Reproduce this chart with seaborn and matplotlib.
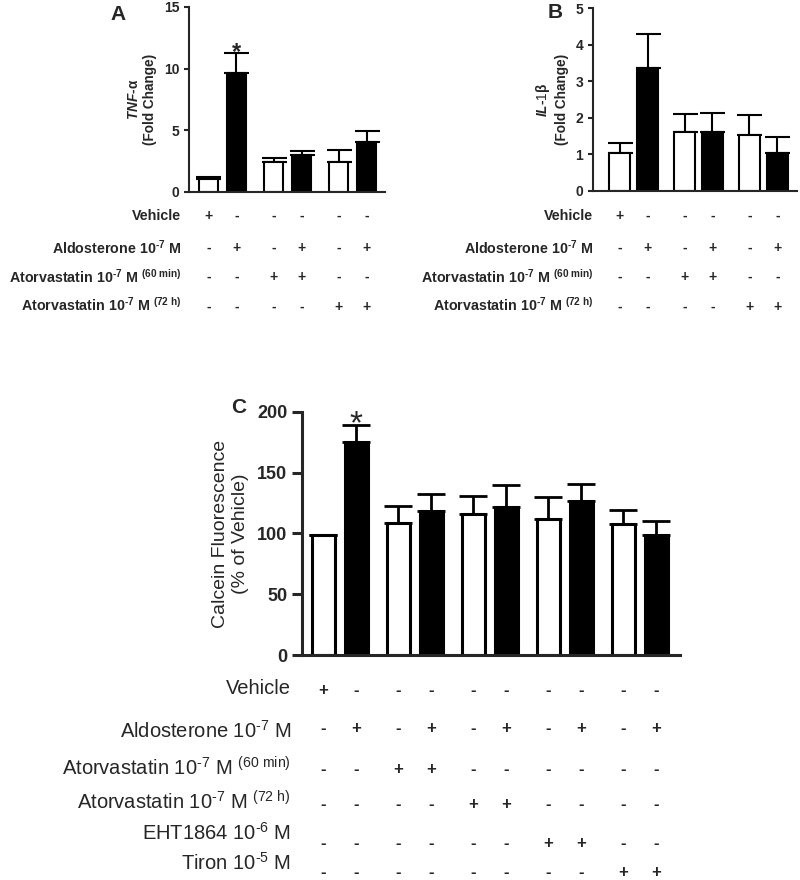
import numpy as np
import pandas as pd
import seaborn as sns
import matplotlib
matplotlib.use('Agg')
from matplotlib import pyplot as plt
from matplotlib.transforms import blended_transform_factory

# panel A: TNF-alpha (fold change), mean and SEM
tnf_mean = [1.0, 9.6, 2.45, 2.95, 2.4, 4.05]
tnf_sem = [0.17, 1.7, 0.3, 0.35, 0.95, 0.9]

# panel B: IL-1beta (fold change)
il1b_mean = [1.05, 3.35, 1.61, 1.62, 1.52, 1.03]
il1b_sem = [0.25, 0.94, 0.49, 0.5, 0.55, 0.44]

# panel C: calcein fluorescence (% of vehicle)
calcein_mean = [99, 175, 109, 118.5, 116, 122, 112, 126.5, 107.5, 99]
calcein_sem = [0, 14.5, 13.5, 14, 15, 18, 18, 14.5, 12, 11]

# treatment tables under the panels
ab_rows = [
    'Vehicle',
    r'Aldosterone 10$^{\mathbf{‐7}}$ M',
    r'Atorvastatin 10$^{\mathbf{‐7}}$ M $^{\mathbf{(60\ min)}}$',
    r'Atorvastatin 10$^{\mathbf{‐7}}$ M $^{\mathbf{(72\ h)}}$',
]
ab_signs = [
    ['+', '-', '-', '-', '-', '-'],
    ['-', '+', '-', '+', '-', '+'],
    ['-', '-', '+', '+', '-', '-'],
    ['-', '-', '-', '-', '+', '+'],
]
c_rows = [
    'Vehicle',
    r'Aldosterone 10$^{\mathrm{‐7}}$ M',
    r'Atorvastatin 10$^{\mathrm{‐7}}$ M $^{\mathrm{(60\ min)}}$',
    r'Atorvastatin 10$^{\mathrm{‐7}}$ M $^{\mathrm{(72\ h)}}$',
    r'EHT1864 10$^{\mathrm{‐6}}$ M',
    r'Tiron 10$^{\mathrm{‐5}}$ M',
]
c_signs = [
    ['+', '-', '-', '-', '-', '-', '-', '-', '-', '-'],
    ['-', '+', '-', '+', '-', '+', '-', '+', '-', '+'],
    ['-', '-', '+', '+', '-', '-', '-', '-', '-', '-'],
    ['-', '-', '-', '-', '+', '+', '-', '-', '-', '-'],
    ['-', '-', '-', '-', '-', '-', '+', '+', '-', '-'],
    ['-', '-', '-', '-', '-', '-', '-', '-', '+', '+'],
]

sns.set_style('ticks')
plt.rcParams['font.family'] = ['Liberation Sans', 'DejaVu Sans']
plt.rcParams['mathtext.fontset'] = 'custom'
plt.rcParams['mathtext.rm'] = 'Liberation Sans'
plt.rcParams['mathtext.bf'] = 'Liberation Sans:bold'
plt.rcParams['mathtext.it'] = 'Liberation Sans:italic:bold'

W, H = 800, 880
fig = plt.figure(figsize=(W / 100, H / 100), dpi=100)


def px_box(left, top, right, bottom):
    return [left / W, 1 - bottom / H, (right - left) / W, (bottom - top) / H]


def bar_positions(n, gap):
    return [(i // 2) * gap + (i % 2) for i in range(n)]


def draw_bars(ax, means, sems, aldo, gap, width, lw, capsize, elw):
    x = bar_positions(len(means), gap)
    df = pd.DataFrame({'x': x, 'y': means, 'aldo': aldo})
    sns.barplot(data=df, x='x', y='y', hue='aldo',
                palette={'-': 'white', '+': 'black'},
                native_scale=True, dodge=False, width=width,
                edgecolor='black', linewidth=lw, errorbar=None,
                legend=False, ax=ax)
    for p in ax.patches:
        p.set_zorder(3)
    # upward-only SEM bars, tucked behind the bars
    ax.errorbar(x, means, yerr=[np.zeros(len(sems)), sems], fmt='none',
                ecolor='black', elinewidth=elw, capsize=capsize,
                capthick=elw, zorder=2)
    return x


def style_axis(ax, lw, tick_len, tick_size):
    sns.despine(ax=ax)
    for side in ['left', 'bottom']:
        ax.spines[side].set_linewidth(lw)
        ax.spines[side].set_zorder(4)
    ax.set_xticks([])
    ax.set_xlabel('')
    ax.tick_params(axis='y', length=tick_len, width=lw, labelsize=tick_size)
    for lab in ax.get_yticklabels():
        lab.set_fontweight('bold')


def draw_table(ax, x, rows, signs, label_x, label_y, sign_y, size, weight, sign_size):
    trans = blended_transform_factory(ax.transData, fig.transFigure)
    for row, lab, ly, sy in zip(signs, rows, label_y, sign_y):
        fig.text(label_x / W, 1 - ly / H, lab, ha='right', va='center',
                 fontsize=size, fontweight=weight)
        for xi, s in zip(x, row):
            ax.text(xi, 1 - sy / H, s, transform=trans, ha='center',
                    va='center', fontsize=sign_size, fontweight='bold',
                    clip_on=False)


# ---- panel A
axA = fig.add_axes(px_box(189, 7, 385, 191.7))
xA = draw_bars(axA, tnf_mean, tnf_sem, ab_signs[1], 2.33, 0.68, 1.5, 9, 1.5)
axA.set_xlim(-0.69, 6.31)
axA.set_ylim(0, 15)
axA.set_yticks([0, 5, 10, 15])
style_axis(axA, 1.5, 3.5, 10)
axA.set_ylabel(r'$\mathit{TNF}$-α' + '\n(Fold Change)', fontsize=9.8,
               fontweight='bold', labelpad=5)
axA.text(xA[1], tnf_mean[1] + tnf_sem[1], '*', ha='center', va='center',
         fontsize=17, fontweight='bold')
fig.text(118 / W, 1 - 14 / H, 'A', fontsize=15, fontweight='bold',
         ha='center', va='center')
draw_table(axA, xA, ab_rows, ab_signs, 181, [216, 248, 277, 305],
           [216, 248, 277, 307], 10.3, 'bold', 10)

# ---- panel B
axB = fig.add_axes(px_box(593, 8, 797, 191))
xB = draw_bars(axB, il1b_mean, il1b_sem, ab_signs[1], 2.32, 0.76, 1.5, 9, 1.5)
axB.set_xlim(-0.95, 6.34)
axB.set_ylim(0, 5)
axB.set_yticks([0, 1, 2, 3, 4, 5])
style_axis(axB, 1.5, 3.5, 10)
axB.set_ylabel(r'$\mathit{IL}$-$\mathit{1}$β' + '\n(Fold Change)', fontsize=9.8,
               fontweight='bold', labelpad=5)
fig.text(555 / W, 1 - 13 / H, 'B', fontsize=15, fontweight='bold',
         ha='center', va='center')
draw_table(axB, xB, ab_rows, ab_signs, 593, [216, 248, 277, 305],
           [216, 248, 277, 307], 10.3, 'bold', 10)

# ---- panel C
axC = fig.add_axes(px_box(302, 412, 680, 655))
xC = draw_bars(axC, calcein_mean, calcein_sem, c_signs[1], 2.27, 0.69, 2.2, 10, 2)
axC.set_xlim(-0.64, 10.8)
axC.set_ylim(0, 200)
axC.set_yticks([0, 50, 100, 150, 200])
style_axis(axC, 2.2, 7, 13)
axC.set_ylabel('Calcein Fluorescence\n(% of Vehicle)', fontsize=14, labelpad=6)
axC.text(xC[1], calcein_mean[1] + calcein_sem[1], '*', ha='center',
         va='center', fontsize=24)
fig.text(239 / W, 1 - 407 / H, 'C', fontsize=15, fontweight='bold',
         ha='center', va='center')
draw_table(axC, xC, c_rows, c_signs, 291, [688, 731, 768, 802, 833, 863],
           [690, 729, 769, 804, 843, 872], 14.5, 'normal', 12)

fig.savefig('out.png', dpi=100)
